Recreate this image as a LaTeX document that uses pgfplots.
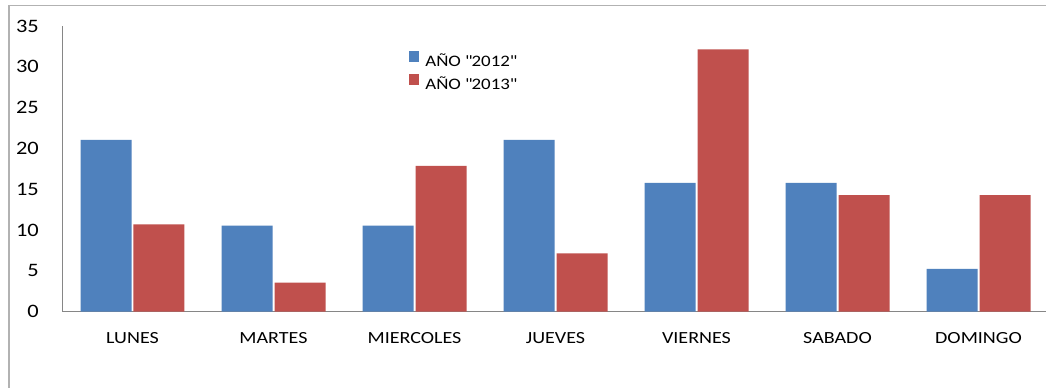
\documentclass[border=0pt]{standalone}
\usepackage{pgfplots}
\pgfplotsset{compat=1.18}
\usepackage{fontspec}
\setmainfont[FakeStretch=1.18]{Carlito}
\definecolor{b12}{HTML}{4F81BD}
\definecolor{r13}{HTML}{C0504D}
\definecolor{axg}{HTML}{868686}
\begin{document}
\begin{tikzpicture}[x=1bp,y=1bp]
\useasboundingbox (0,0) rectangle (1046,387);
\clip (0,0) rectangle (1046,387);
\fill[white] (0,0) rectangle (1046,387);
\draw[line width=1.3bp, color=black!30] (9,-5) -- (9,381.5) -- (1050,381.5);
\begin{axis}[
  at={(62bp,75.3bp)}, anchor=south west,
  scale only axis, width=987bp, height=285.7bp,
  xmin=-0.5, xmax=6.5, ymin=0, ymax=35,
  ybar, bar width=51bp,
  axis x line*=bottom, axis y line*=left,
  axis line style={draw=axg, line width=1bp, -},
  xtick={0,...,6},
  xticklabels={LUNES,MARTES,MIERCOLES,JUEVES,VIERNES,SABADO,DOMINGO},
  ytick={0,5,...,35},
  major tick length=0pt,
  /pgf/number format/assume math mode=true,
  yticklabel style={anchor=east, inner sep=0pt, xshift=-23bp, font=\fontsize{19bp}{20bp}\selectfont},
  xticklabel style={anchor=base, inner sep=0pt, yshift=-31.3bp, font=\fontsize{17bp}{19bp}\selectfont},
  legend style={at={(0.3519,0.9114)}, anchor=north west, draw=none, fill=none,
    inner sep=0pt, outer sep=0pt, row sep=5bp, column sep=6bp,
    font=\fontsize{16bp}{18bp}\selectfont,
    nodes={inner sep=0pt, text height=12bp, text depth=3bp}},
  legend cell align=left,
  legend image code/.code={\fill[#1] (0bp,0bp) rectangle (10bp,10.5bp);},
]
\addplot[fill=b12, draw=none] coordinates {(0,21.05) (1,10.53) (2,10.53) (3,21.05) (4,15.79) (5,15.79) (6,5.26)};
\addplot[fill=r13, draw=none] coordinates {(0,10.71) (1,3.57) (2,17.86) (3,7.14) (4,32.14) (5,14.29) (6,14.29)};
\legend{AÑO \textquotedbl 2012\textquotedbl, AÑO \textquotedbl 2013\textquotedbl}
\end{axis}
\end{tikzpicture}
\end{document}
